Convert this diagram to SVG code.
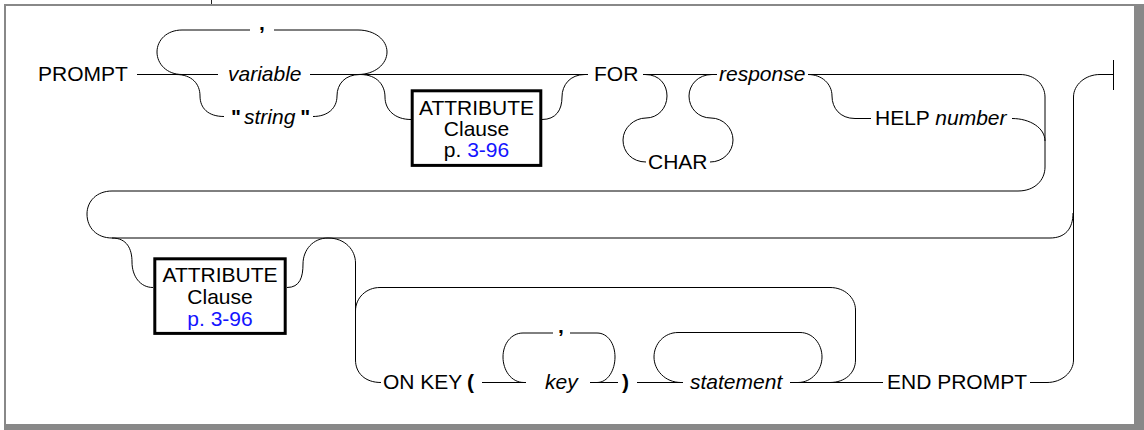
<svg xmlns="http://www.w3.org/2000/svg" width="1144" height="430" viewBox="0 0 1144 430">
<style>
  .t { font-family: "Liberation Sans", Arial, sans-serif; font-size: 21px; fill: #000; }
  .i { font-style: italic; }
  .b { font-weight: bold; }
  .blue { fill: #1414ff; }
  .c { fill: none; stroke: #000; stroke-width: 1; }
  .box { fill: #fff; stroke: #000; stroke-width: 3; }
</style>
<rect x="0" y="0" width="1144" height="430" fill="#fff"/>
<g id="frame">
  <line x1="211.5" y1="0" x2="211.5" y2="5" stroke="#222" stroke-width="1"/>
  <rect x="5" y="5" width="1130" height="420" fill="#fff" stroke="#888" stroke-width="2"/>
  <rect x="1134" y="4" width="10" height="426" fill="#888"/>
  <rect x="4" y="424" width="1140" height="6" fill="#888"/>
</g>
<g id="connectors" class="c">
  <!-- row 1 main line -->
  <path d="M137,74.5 H218 M310,74.5 H588"/>
  <!-- comma repeat loop -->
  <path d="M182,74.5 C167,74.5 157,64 157,52 C157,40 167,30 182,30 H250 M274,30 H358 C375,30 387,40 387,52 C387,64 375,74.5 358,74.5"/>
  <!-- string branch -->
  <path d="M176,74.5 C192,74.5 200,84 200,96 C200,108 208,116.5 224,116.5"/>
  <path d="M313,116.5 C328,116.5 337,108 337,96 C337,84 345,74.5 360,74.5"/>
  <!-- attribute branch row 1 -->
  <path d="M360,74.5 C378,74.5 385,86 385,97 C385,110 395,119.5 411,119.5"/>
  <path d="M542,119.5 C556,119.5 562,110 562,97 C562,85 570,74.5 585,74.5"/>
  <!-- FOR to response -->
  <path d="M643,74.5 H717"/>
  <!-- CHAR branch -->
  <path d="M645,74.5 C660,74.5 667,85 667,96 C667,108 658,118 646,118 C634,118 623,128 623,140 C623,152 632,162 646,162"/>
  <path d="M710,162 C723,162 733,152 733,140 C733,128 723,118 711,118 C698,118 689,108 689,96 C689,85 698,74.5 712,74.5"/>
  <!-- response to wrap -->
  <path d="M808,74.5 H1020 C1035,74.5 1045,85 1045,97 V167 C1045,180 1035,191 1018,191 H112 C97,191 87,201 87,214 C87,228 97,238 112,238 H1050 C1065,238 1073,229 1073,213"/>
  <!-- HELP branch -->
  <path d="M808,74.5 C822,74.5 832,84 832,96 C832,108 840,118.5 855,118.5 H871"/>
  <path d="M1012,118.5 C1030,118.5 1045,128 1045,141"/>
  <!-- attribute branch row 2 -->
  <path d="M112,238 C127,238 132,249 132,262 C132,276 140,287.5 153,287.5"/>
  <path d="M287,287.5 C300,287.5 303,277 303,264 C303,250 313,238 328,238"/>
  <!-- ON KEY branch -->
  <path d="M328,238 C345,238 355.5,250 355.5,263 V360 C355.5,373 365,382.5 381,382.5"/>
  <!-- outer repeat loop -->
  <path d="M355.5,311 C355.5,298 366,287.5 380,287.5 H830 C845,287.5 855.5,298 855.5,310 V360 C855.5,373 845,382.5 830,382.5"/>
  <!-- key loop -->
  <path d="M482,382.5 H526"/>
  <path d="M524,382.5 C511,382.5 503,370 503,357 C503,344 511,333 523,333 H553 M570,333 H597 C608,333 615,344 615,357 C615,370 608,382.5 597,382.5"/>
  <path d="M590,382.5 H618"/>
  <!-- statement loop -->
  <path d="M637,382.5 H683 M790,382.5 H883"/>
  <path d="M681,382.5 C665,382.5 654,370 654,357 C654,344 664,332.5 678,332.5 H800 C813,332.5 822,344 822,357 C822,370 812,382.5 798,382.5"/>
  <!-- END PROMPT to end -->
  <path d="M1030,382.5 H1047 C1062,382.5 1073.5,372 1073.5,360 V97 C1073.5,85 1085,74.5 1100,74.5 H1113.5"/>
  <path d="M1113.5,60 V90"/>
</g>
<g id="node-prompt"><text class="t" x="38" y="81">PROMPT</text></g>
<g id="node-comma1"><text class="t b" x="262" y="30" font-size="24" text-anchor="middle">,</text></g>
<g id="node-variable"><text class="t i" x="228" y="81">variable</text></g>
<g id="node-string"><text class="t" x="231" y="123.5"><tspan class="b">"</tspan><tspan class="i" dx="3">string</tspan><tspan class="b" dx="5">"</tspan></text></g>
<g id="node-attr1">
  <rect class="box" x="412.2" y="90.8" width="128.6" height="74.6"/>
  <text class="t" x="476.5" y="114.5" text-anchor="middle">ATTRIBUTE</text>
  <text class="t" x="476.5" y="136" text-anchor="middle">Clause</text>
  <text class="t" x="476.5" y="157" text-anchor="middle">p. <tspan class="blue">3-96</tspan></text>
</g>
<g id="node-for"><text class="t" x="594" y="81">FOR</text></g>
<g id="node-char"><text class="t" x="648" y="168.5">CHAR</text></g>
<g id="node-response"><text class="t i" x="719" y="81">response</text></g>
<g id="node-help"><text class="t" x="875" y="125">HELP <tspan class="i">number</tspan></text></g>
<g id="node-attr2">
  <rect class="box" x="154.8" y="258.8" width="130.4" height="74.6"/>
  <text class="t" x="220" y="282" text-anchor="middle">ATTRIBUTE</text>
  <text class="t" x="220" y="303.5" text-anchor="middle">Clause</text>
  <text class="t blue" x="220" y="326" text-anchor="middle">p. 3-96</text>
</g>
<g id="node-onkey"><text class="t" x="383" y="389">ON KEY</text></g>
<g id="node-lparen"><text class="t b" x="467" y="389" font-size="25">(</text></g>
<g id="node-comma2"><text class="t b" x="561" y="333" font-size="24" text-anchor="middle">,</text></g>
<g id="node-key"><text class="t i" x="545" y="389">key</text></g>
<g id="node-rparen"><text class="t b" x="622" y="389" font-size="25">)</text></g>
<g id="node-statement"><text class="t i" x="690" y="389">statement</text></g>
<g id="node-endprompt"><text class="t" x="887" y="389">END PROMPT</text></g>
</svg>
